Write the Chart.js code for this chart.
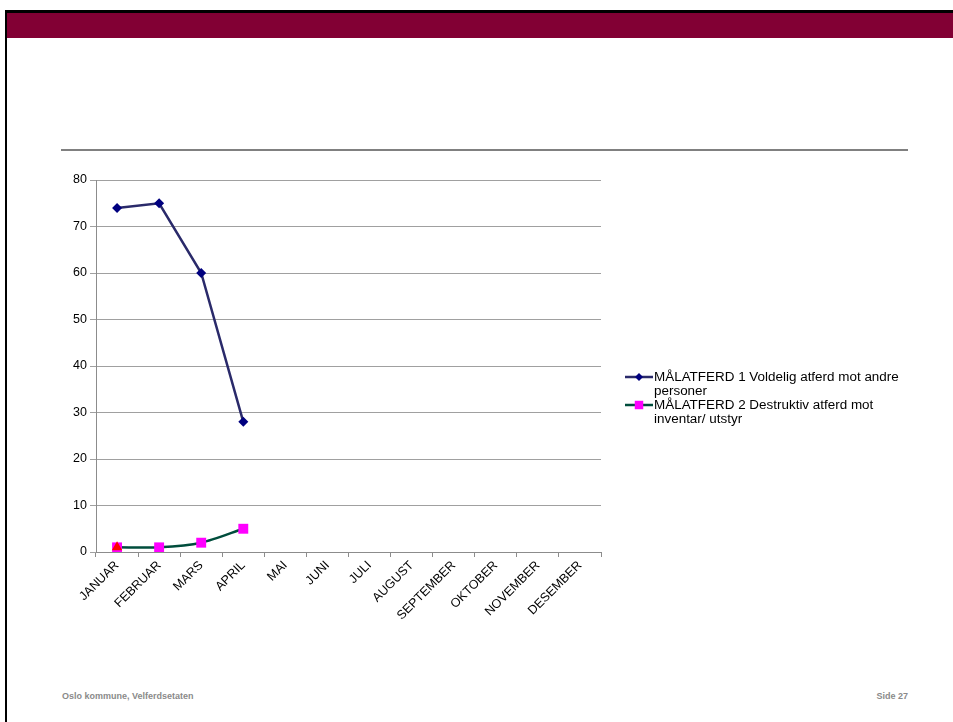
<!DOCTYPE html>
<html>
<head>
<meta charset="utf-8">
<title>Målatferd</title>
<script src="https://cdn.jsdelivr.net/npm/chart.js@4.4.1/dist/chart.umd.min.js"></script>
<style>
  body { margin: 0; width: 953px; height: 722px; position: relative; background: #fff; overflow: hidden;
         font-family: "Liberation Sans", Arial, sans-serif; }
  #topline { position: absolute; left: 5px; top: 10px; width: 948px; height: 3px; background: #000; }
  #band { position: absolute; left: 7px; top: 13px; width: 946px; height: 25px; background: #820034; }
  #leftline { position: absolute; left: 5px; top: 10px; width: 2px; height: 712px; background: #000; }
  #rule { position: absolute; left: 61px; top: 149px; width: 847px; height: 2px; background: #808080; }
  .foot { position: absolute; top: 691px; font-size: 9px; font-weight: bold; color: #8a8a8a; }
  #chartBox { position: absolute; left: 0; top: 0; width: 953px; height: 722px; }
</style>
</head>
<body>
<div id="topline"></div>
<div id="band"></div>
<div id="leftline"></div>
<div id="rule"></div>
<div class="foot" style="left:62px">Oslo kommune, Velferdsetaten</div>
<div class="foot" style="right:45px">Side 27</div>
<div id="chartBox"><canvas id="malChart" width="953" height="722"></canvas></div>

<script>
// Months on the x axis
const months = ['JANUAR', 'FEBRUAR', 'MARS', 'APRIL', 'MAI', 'JUNI', 'JULI',
  'AUGUST', 'SEPTEMBER', 'OKTOBER', 'NOVEMBER', 'DESEMBER'];

// Registrations per month (only Jan-Apr filled in so far)
const voldelig = [74, 75, 60, 28];
const destruktiv = [1, 1, 2, 5];
const annen = [1];

const yMin = 0;
const yMax = 80;
const yStep = 10;

const FONT = '"Liberation Sans", Arial, sans-serif';
const STRETCH = 1.12; // legend text is a bit wider than the plain font

function wrapText(ctx, text, maxWidth) {
  const words = text.split(' ');
  const lines = [];
  let line = '';
  words.forEach(w => {
    const test = line ? line + ' ' + w : w;
    if (ctx.measureText(test).width * STRETCH > maxWidth && line) {
      lines.push(line);
      line = w;
    } else {
      line = test;
    }
  });
  if (line) lines.push(line);
  return lines;
}

function drawMarker(ctx, style, r, x, y) {
  ctx.beginPath();
  if (style === 'rectRot') {
    ctx.moveTo(x, y - r); ctx.lineTo(x + r, y); ctx.lineTo(x, y + r); ctx.lineTo(x - r, y);
  } else {
    const s = r * Math.SQRT1_2;
    ctx.rect(x - s, y - s, 2 * s, 2 * s);
  }
  ctx.closePath();
  ctx.fill();
}

// Legend on the right side with wrapped labels
const sideLegend = {
  id: 'sideLegend',
  afterDraw(chart) {
    const ctx = chart.ctx;
    ctx.save();
    ctx.font = '12px ' + FONT;
    ctx.textBaseline = 'alphabetic';
    let y = 381;
    chart.data.datasets.forEach(ds => {
      if (ds.hideInLegend) return;
      const my = y - 4;
      ctx.strokeStyle = ds.borderColor;
      ctx.lineWidth = 2.5;
      ctx.beginPath();
      ctx.moveTo(625, my);
      ctx.lineTo(653, my);
      ctx.stroke();
      ctx.fillStyle = ds.pointBackgroundColor;
      drawMarker(ctx, ds.pointStyle, ds.pointStyle === 'rectRot' ? 4 : 6, 639, my);
      ctx.fillStyle = '#000';
      const lines = wrapText(ctx, ds.label, 262);
      lines.forEach((l, i) => {
        ctx.save();
        ctx.translate(654, y + i * 14);
        ctx.scale(STRETCH, 1);
        ctx.fillText(l, 0, 0);
        ctx.restore();
      });
      y += lines.length * 14;
    });
    ctx.restore();
  }
};

new Chart(document.getElementById('malChart').getContext('2d'), {
  type: 'line',
  data: {
    labels: months,
    datasets: [
      {
        label: 'MÅLATFERD 1 Voldelig atferd mot andre personer',
        data: voldelig,
        borderColor: '#2a2a6a',
        borderWidth: 2.5,
        pointStyle: 'rectRot',
        pointRadius: 5,
        pointBackgroundColor: '#00007f',
        pointBorderColor: '#00007f',
        pointBorderWidth: 0,
        tension: 0,
      },
      {
        label: 'MÅLATFERD 2 Destruktiv atferd mot inventar/ utstyr',
        data: destruktiv,
        borderColor: '#004d3c',
        borderWidth: 2.5,
        pointStyle: 'rect',
        pointRadius: 7,
        pointBackgroundColor: '#ff00ff',
        pointBorderColor: '#ff00ff',
        pointBorderWidth: 0,
        tension: 0.25,
      },
      {
        label: 'MÅLATFERD 3',
        data: annen,
        hideInLegend: true,
        order: -1,
        showLine: false,
        borderColor: '#ff0000',
        pointStyle: 'triangle',
        pointRadius: 6,
        pointBackgroundColor: '#ff0000',
        pointBorderColor: '#ff0000',
        pointBorderWidth: 0,
      },
    ],
  },
  options: {
    responsive: false,
    animation: false,
    layout: { padding: { left: 56, right: 352, top: 180, bottom: 90 } },
    plugins: {
      legend: { display: false },
      tooltip: { enabled: false },
    },
    scales: {
      x: {
        offset: true,
        afterFit(scale) { scale.height = 80; },
        grid: { display: true, drawOnChartArea: false, offset: true, tickLength: 5, color: '#8c8c8c' },
        border: { color: '#8c8c8c' },
        ticks: {
          autoSkip: false,
          minRotation: 45,
          maxRotation: 45,
          padding: 1,
          color: '#000',
          font: { family: FONT, size: 12.5 },
        },
      },
      y: {
        min: yMin,
        max: yMax,
        afterFit(scale) { scale.width = 40; },
        grid: { color: '#a0a0a0', tickLength: 6 },
        border: { color: '#8c8c8c' },
        ticks: {
          stepSize: yStep,
          padding: 3,
          color: '#000',
          font: { family: FONT, size: 12.5 },
        },
      },
    },
  },
  plugins: [sideLegend],
});
</script>
</body>
</html>
